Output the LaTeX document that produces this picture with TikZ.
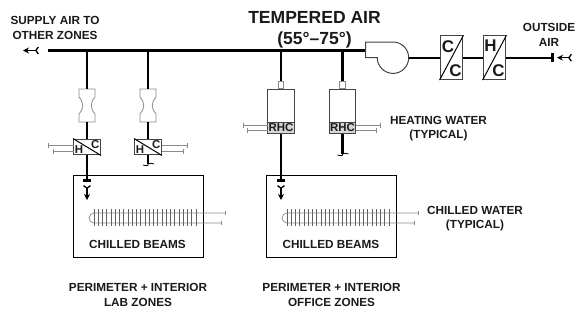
\documentclass[tikz,border=0pt]{standalone}
\usepackage{fontspec}
\setmainfont{Liberation Sans}
\usetikzlibrary{arrows.meta,calc}
\definecolor{ink}{HTML}{1A1A1A}
\definecolor{boxgrey}{HTML}{444444}
\definecolor{pipe}{HTML}{8A8A8A}
\tikzset{
 duct/.style={line width=2.3pt,black},
 thinbox/.style={draw=boxgrey,line width=1pt,fill=white},
 pipeline/.style={draw=pipe,line width=0.7pt},
 lab/.style={font=\bfseries\fontsize{11.8}{14.8}\selectfont,text=ink,align=center,inner sep=0pt},
 big/.style={font=\bfseries\fontsize{17.6}{21}\selectfont,text=ink,align=center,inner sep=0pt},
 letter/.style={font=\bfseries\fontsize{11.5}{11.5}\selectfont,text=ink,inner sep=0pt},
 bigletter/.style={font=\bfseries\fontsize{17}{17}\selectfont,text=ink,inner sep=0pt},
 flow/.style={line width=1.3pt,{Straight Barb[reversed,length=2.5pt,width=7pt]}-{Stealth[length=6pt,width=6pt]}},
}
% mixing box (name, x, y)
\newcommand{\hcbox}[3]{
 \node[thinbox,minimum width=27pt,minimum height=16pt,inner sep=0pt] (#1) at (#2,#3) {};
 \draw[black,line width=1pt] (#1.north west) -- (#1.south east);
 \node[letter] (#1h) at ($(#1.center)+(-8,2.4)$) {H};
 \node[letter] (#1c) at ($(#1.center)+(8.2,-2.6)$) {C};
}
% venturi (name, x, top y)
\newcommand{\venturi}[3]{
 \coordinate (#1) at (#2,#3);
 \draw[draw=pipe,line width=0.8pt,fill=white]
  ($(#1)+(-8,0)$) -- ($(#1)+(8,0)$) -- ($(#1)+(8,8)$) .. controls ($(#1)+(3,14)$) and ($(#1)+(3,19)$) .. ($(#1)+(8,25)$)
  -- ($(#1)+(8,33)$) -- ($(#1)+(-8,33)$) -- ($(#1)+(-8,25)$) .. controls ($(#1)+(-3,19)$) and ($(#1)+(-3,14)$) .. ($(#1)+(-8,8)$) -- cycle;
}
% reheat box (name, x)
\newcommand{\rhcbox}[2]{
 \node[thinbox,minimum width=27pt,minimum height=45pt,inner sep=0pt] (#1) at (#2,111.5) {};
 \node[fill=boxgrey!22,draw=boxgrey,line width=1pt,minimum width=27pt,minimum height=12pt,inner sep=0pt] (#1b) at (#2,128) {};
 \node[letter] (#1t) at (#1b) {RHC};
 \node[thinbox,draw=pipe,minimum width=6pt,minimum height=8pt,inner sep=0pt] (#1n) at (#2,85) {};
}
% chilled beam (name, left x of box)
\newcommand{\beam}[2]{
 \node[draw=black,line width=1pt,minimum width=131pt,minimum height=82pt,inner sep=0pt,anchor=north west] (#1) at (#2,175) {};
 \coordinate (#1a) at ($(#1.north west)+(21.5,38)$);
 \coordinate (#1e) at ($(#1.north west)+(152.5,38)$);
 \coordinate (#1f) at ($(#1.north west)+(149,48)$);
 \draw[pipeline] (#1e) -- (#1a) arc[start angle=-90,end angle=-270,radius=5] -- (#1f);
 \draw[pipeline] ($(#1e)+(0,-2)$) -- ($(#1e)+(0,2)$) ($(#1f)+(0,-2)$) -- ($(#1f)+(0,2)$);
 \foreach \i in {0,...,24} \draw[draw=pipe!70!black,line width=0.6pt] ($(#1.north west)+(21.5+\i*4.25,34)$) -- ++(0,17);
}
\begin{document}
\begin{tikzpicture}[x=1bp,y=-1bp]
\useasboundingbox (0,0) rectangle (577,324);
% coordinates
\coordinate (mainW) at (48,50.5);
\coordinate (mainE) at (366,50.5);
\coordinate (t1) at (87,50.5);
\coordinate (t2) at (148,50.5);
\coordinate (t3) at (281,50.5);
\coordinate (t4) at (342.5,50.5);
\draw[duct] (mainW) -- (mainE);
% fan
\draw[boxgrey,line width=1pt,fill=white] (365.5,42) -- (393,42) arc[start angle=-90,end angle=180,radius=15.7] -- (365.5,57.7) -- cycle;
% ahu boxes
\node[thinbox,minimum width=23pt,minimum height=44pt,inner sep=0pt] (cc) at (451.5,57.7) {};
\node[thinbox,minimum width=23pt,minimum height=44pt,inner sep=0pt] (hc) at (494.5,57.7) {};
\draw[black,line width=1pt] (cc.north east) -- (cc.south west);
\draw[black,line width=1pt] (hc.north east) -- (hc.south west);
\node[bigletter] (cca) at (448,47) {C};
\node[bigletter] (ccb) at (455.5,70.5) {C};
\node[bigletter] (hca) at (490.5,46) {H};
\node[bigletter] (hcb) at (498.5,70.5) {C};
\coordinate (oa) at (552.5,57.7);
\coordinate (fanE) at (408.7,57.7);
\draw[duct] (fanE) -- (cc.west);
\draw[duct] (cc.east) -- (hc.west);
\draw[duct] (hc.east) -- (oa);
\draw[duct] (552.5,53) -- (552.5,62);
\coordinate (oaT) at (572,57.7);
\coordinate (oaH) at (557,57.7);
\draw[flow] (oaT) -- (oaH);
\coordinate (saT) at (39,50.5);
\coordinate (saH) at (23,50.5);
\draw[flow] (saT) -- (saH);
% branch 1
\venturi{v1}{87}{89}
\venturi{v2}{148}{89}
\hcbox{m1}{87}{147}
\hcbox{m2}{148}{147}
\draw[duct] (t1) -- (v1);
\draw[duct] (t2) -- (v2);
\draw[duct] ($(v1)+(0,33)$) -- (m1.north);
\draw[duct] ($(v2)+(0,33)$) -- (m2.north);
% RHC
\rhcbox{r1}{281}
\rhcbox{r2}{342.5}
\draw[duct] (t3) -- (r1n.north);
\draw[duct] (t4) -- (r2n.north);
% beams
\beam{b1}{72.5}
\beam{b2}{265.5}
% down ducts
\coordinate (d1) at (87,180.5);
\coordinate (d3) at (281,180.5);
\draw[duct] (m1.south) -- (d1);
\draw[duct] (r1.south) -- (d3);
\draw[duct] (83,180.5) -- (91,180.5);
\draw[duct] (277,180.5) -- (285,180.5);
\coordinate (d1a) at (87,185);
\coordinate (d1b) at (87,200);
\coordinate (d3a) at (281,185);
\coordinate (d3b) at (281,200);
\draw[flow] (d1a) -- (d1b);
\draw[flow] (d3a) -- (d3b);
% capped ducts
\coordinate (e2) at (148,164);
\coordinate (e4) at (342.5,154);
\draw[duct] (m2.south) -- (e2);
\draw[duct] (r2.south) -- (e4);
\draw[black,line width=0.8pt] ($(e2)+(-5,1)$) .. controls ($(e2)+(-2,2)$) and ($(e2)+(1,2)$) .. (e2) .. controls ($(e2)+(2,-1)$) and ($(e2)+(4,-1)$) .. ($(e2)+(6,0)$);
\draw[black,line width=0.8pt] ($(e4)+(-5,1)$) .. controls ($(e4)+(-2,2)$) and ($(e4)+(1,2)$) .. (e4) .. controls ($(e4)+(2,-1)$) and ($(e4)+(4,-1)$) .. ($(e4)+(6,0)$);
% water stubs
\foreach \n/\x/\y/\t in {a/48.5/145/73.5,b/53/151/73.5,c/187.5/145/161.5,d/183.5/151/161.5,e/243/125/267.5,f/247/130.5/267.5,g/380.5/125/356,h/376.5/130.5/356}{
 \coordinate (w\n) at (\x,\y);
 \coordinate (u\n) at (\t,\y);
 \draw[pipeline] (w\n) -- (u\n);
 \draw[pipeline] ($(w\n)+(0,-2.5)$) -- ($(w\n)+(0,2.5)$);
}
% labels
\node[lab] (l1) at (55,28) {SUPPLY AIR TO\\OTHER ZONES};
\node[big] (l2) at (314.5,29.5) {TEMPERED AIR\\(55°–75°)};
\node[lab] (l3) at (549,35) {OUTSIDE\\AIR};
\node[lab] (l4) at (438.5,128.5) {HEATING WATER\\(TYPICAL)};
\node[lab] (l5) at (475,218.5) {CHILLED WATER\\(TYPICAL)};
\node[lab] (l6) at (137.5,244.5) {CHILLED BEAMS};
\node[lab] (l7) at (331,244.5) {CHILLED BEAMS};
\node[lab] (l8) at (138,295) {PERIMETER + INTERIOR\\LAB ZONES};
\node[lab] (l9) at (331.5,295) {PERIMETER + INTERIOR\\OFFICE ZONES};
\end{tikzpicture}
\end{document}
